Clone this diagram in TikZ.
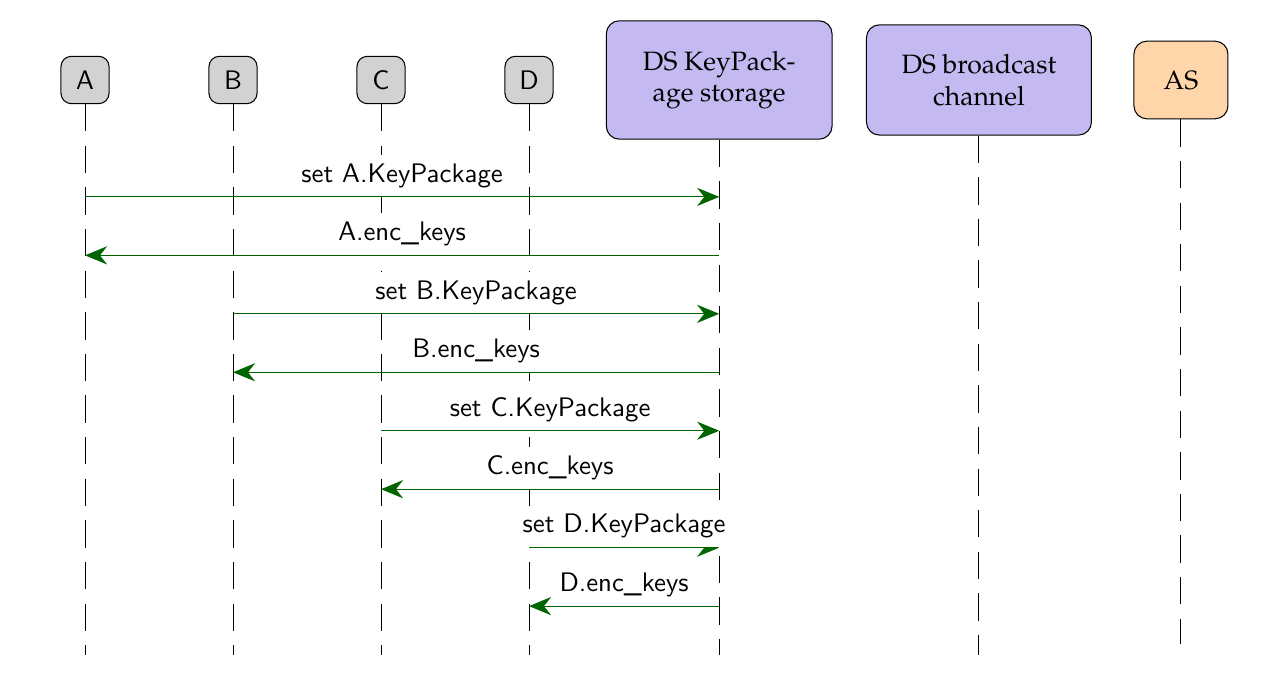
\documentclass[tikz,border=0pt]{standalone}
\usepackage{tikz}
\usepackage{xcolor}
\usetikzlibrary{arrows.meta}
\definecolor{dsviolet}{RGB}{196,185,240}
\definecolor{asorange}{RGB}{255,213,170}
\definecolor{msggreen}{RGB}{0,100,0}
\newcommand{\palfont}{\fontencoding{OT1}\fontfamily{ppl}\fontsize{10.2}{12.2}\selectfont}
\newcommand{\labfont}{\sffamily\fontsize{10.3}{12.4}\selectfont}

\begin{document}
\begin{tikzpicture}[
    client/.style={draw, rounded corners=4pt, fill=gray!35, font=\labfont,
        minimum width=0.65cm, minimum height=0.64cm},
    service/.style={draw, rounded corners=5pt, align=center, font=\palfont},
    lifeline/.style={dash pattern=on 10.5pt off 5.5pt},
    msg/.style={msggreen, -{Stealth[length=8.5pt, width=7pt]}},
    msglabel/.style={midway, above, fill=white, font=\labfont, text=black}
]
    \useasboundingbox (-1.149,1.081) rectangle (16.054,-8.284);
    \node[client] (A) at (0,0) {A};
    \node[client] (B) at (2,0) {B};
    \node[client] (C) at (4,0) {C};
    \node[client] (D) at (6,0) {D};
    \node[service, fill=dsviolet, minimum width=3.05cm, minimum height=1.6cm] (ks) at (8.57,0) {DS KeyPack-\\age storage};
    \node[service, fill=dsviolet, minimum width=3.04cm, minimum height=1.49cm] (bc) at (12.08,0) {DS broadcast\\channel};
    \node[service, fill=asorange, minimum width=1.27cm, minimum height=1.05cm] (AS) at (14.81,0) {AS};
    \coordinate (end) at (0,-7.77);
    \coordinate (ASend) at (14.81,-7.62);
    \foreach \n in {A,B,C,D,ks,bc}
        \draw[lifeline] (\n.south) -- (\n |- end);
    \draw[lifeline] (AS.south) -- (ASend);
    \foreach \p [count=\i] in {A,B,C,D} {
        \path (\p) ++(0,{-1.58*\i}) coordinate (set\p);
        \path (\p) ++(0,{-1.58*\i-0.79}) coordinate (key\p);
        \draw[msg] (set\p) -- (set\p -| ks) node[msglabel] {set \p.KeyPackage};
        \draw[msg] (key\p -| ks) -- (key\p) node[msglabel] {\p.enc\_keys};
    }
\end{tikzpicture}
\end{document}
